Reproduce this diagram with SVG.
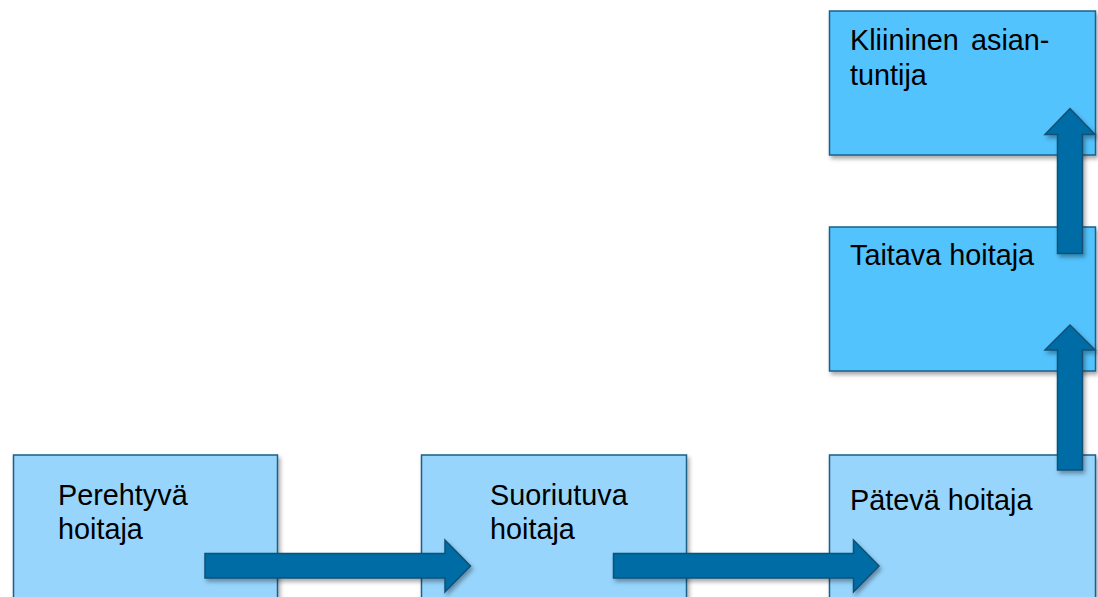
<svg xmlns="http://www.w3.org/2000/svg" width="1098" height="597" viewBox="0 0 1098 597">
  <defs>
    <filter id="shadow" x="-10%" y="-10%" width="130%" height="130%">
      <feDropShadow dx="2" dy="3" stdDeviation="2" flood-color="#000" flood-opacity="0.35"/>
    </filter>
  </defs>
  <style>
    .box { stroke: #1d5f88; stroke-width: 1.5; filter: url(#shadow); }
    .light { fill: #97d5fd; }
    .bright { fill: #53c3fd; }
    .arrow { fill: #006ca6; stroke: #124f75; stroke-width: 1.5; filter: url(#shadow); }
    .label { font-family: "Liberation Sans", Arial, sans-serif; font-size: 28.8px; fill: #000; }
  </style>

  <!-- career stages -->
  <g id="perehtyva">
    <rect class="box light" x="13.5" y="455" width="264" height="160"/>
    <text class="label" x="58" y="505">Perehtyvä</text>
    <text class="label" x="58" y="539">hoitaja</text>
  </g>
  <g id="suoriutuva">
    <rect class="box light" x="421.5" y="455" width="265" height="160"/>
    <text class="label" x="490" y="505">Suoriutuva</text>
    <text class="label" x="490" y="539">hoitaja</text>
  </g>
  <g id="pateva">
    <rect class="box light" x="829.5" y="455" width="266" height="160"/>
    <text class="label" x="850" y="510">Pätevä hoitaja</text>
  </g>
  <g id="taitava">
    <rect class="box bright" x="829.5" y="227" width="266" height="144"/>
    <text class="label" x="850" y="265">Taitava hoitaja</text>
  </g>
  <g id="kliininen">
    <rect class="box bright" x="829.5" y="11" width="266" height="144"/>
    <text class="label" x="850" y="50">Kliininen <tspan x="971">asian-</tspan></text>
    <text class="label" x="850" y="85">tuntija</text>
  </g>

  <!-- progression arrows -->
  <g id="connectors">
    <path class="arrow" d="M205,553.5 H445 V540 L470.5,566 L445,592 V578 H205 Z"/>
    <path class="arrow" d="M613.5,553.5 H853.5 V540 L879,566 L853.5,592 V578 H613.5 Z"/>
    <path class="arrow" d="M1057.5,470 V350 H1045 L1070,325 L1095,350 H1082.5 V470 Z"/>
    <path class="arrow" d="M1057.5,253.5 V134.5 H1045 L1070,108.5 L1095,134.5 H1082.5 V253.5 Z"/>
  </g>
</svg>
